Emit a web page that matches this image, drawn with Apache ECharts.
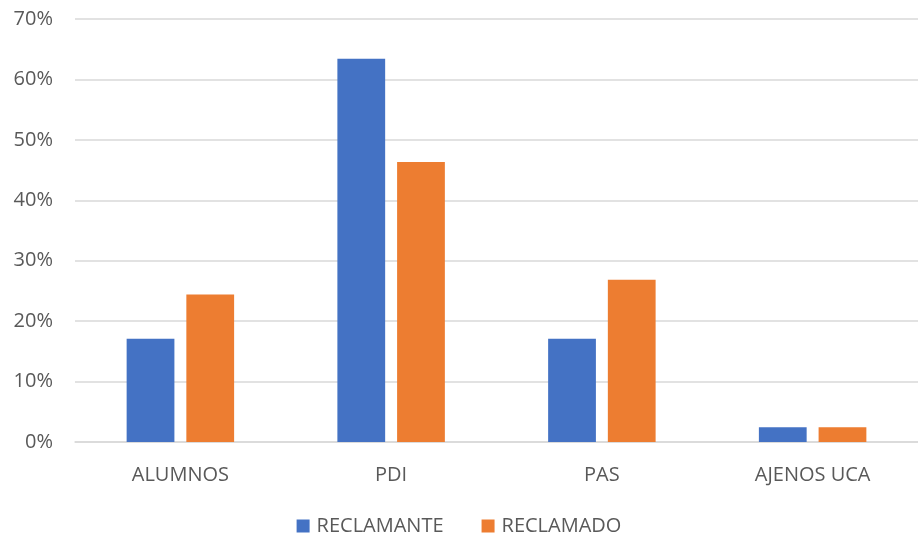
<!DOCTYPE html>
<html>
<head>
<meta charset="utf-8">
<script src="https://cdn.jsdelivr.net/npm/echarts@6/dist/echarts.min.js"></script>
<style>
  html, body { margin: 0; padding: 0; background: #fff; }
  #chart { width: 918px; height: 538px; }
</style>
</head>
<body>
<div id="chart"></div>
<script>
// categories and series values (percent)
const categories = ['ALUMNOS', 'PDI', 'PAS', 'AJENOS UCA'];
const reclamante = [17.07, 63.41, 17.07, 2.44];
const reclamado = [24.39, 46.34, 26.83, 2.44];
const yTicks = [0, 10, 20, 30, 40, 50, 60, 70];

const chart = echarts.init(document.getElementById('chart'));
const font = '"Open Sans", "Liberation Sans", sans-serif';

chart.setOption({
  animation: false,
  textStyle: { fontFamily: font },
  grid: { left: 75, right: 0, top: 19, bottom: 96 },
  legend: {
    top: 511,
    left: 'center',
    itemWidth: 13,
    itemHeight: 13,
    itemGap: 38,
    icon: 'rect',
    textStyle: { color: '#595959', fontSize: 20, fontFamily: font, padding: [0, 0, 0, 2] },
    data: ['RECLAMANTE', 'RECLAMADO']
  },
  xAxis: {
    type: 'category',
    data: categories,
    axisLine: { lineStyle: { color: '#d9d9d9', width: 1.5 } },
    axisTick: { show: false },
    axisLabel: { color: '#595959', fontSize: 20, margin: 23, fontFamily: font }
  },
  yAxis: {
    type: 'value',
    min: yTicks[0],
    max: yTicks[yTicks.length - 1],
    interval: 10,
    axisLine: { show: false },
    axisTick: { show: false },
    splitLine: { lineStyle: { color: '#d9d9d9', width: 1.5 } },
    axisLabel: {
      color: '#595959', fontSize: 20, margin: 22, fontFamily: font,
      formatter: v => v + '%'
    }
  },
  series: [
    {
      name: 'RECLAMANTE',
      type: 'bar',
      data: reclamante,
      barGap: '25%',
      barCategoryGap: '49%',
      itemStyle: { color: '#4472c4' }
    },
    {
      name: 'RECLAMADO',
      type: 'bar',
      data: reclamado,
      itemStyle: { color: '#ed7d31' }
    }
  ]
});
</script>
</body>
</html>
